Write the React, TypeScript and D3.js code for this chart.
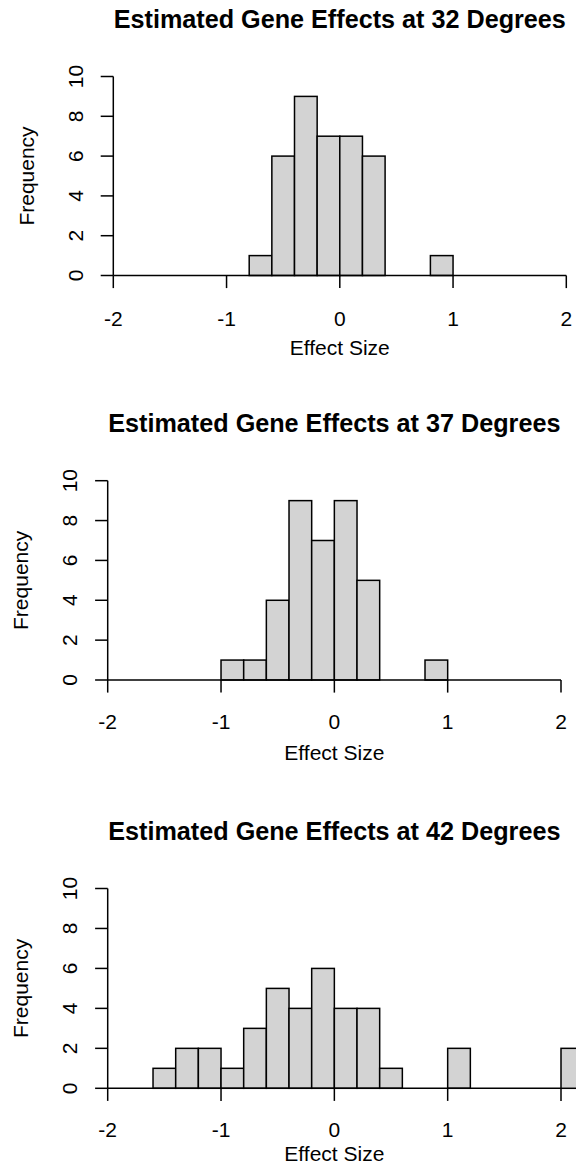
import React from "react";
import * as d3 from "d3";

// ---- data ----
const titles = [
  "Estimated Gene Effects at 32 Degrees",
  "Estimated Gene Effects at 37 Degrees",
  "Estimated Gene Effects at 42 Degrees",
];
const breaks32 = [-0.8, -0.6, -0.4, -0.2, 0.0, 0.2, 0.4, 0.6, 0.8, 1.0];
const counts32 = [1, 6, 9, 7, 7, 6, 0, 0, 1];
const breaks37 = [-1.0, -0.8, -0.6, -0.4, -0.2, 0.0, 0.2, 0.4, 0.6, 0.8, 1.0];
const counts37 = [1, 1, 4, 9, 7, 9, 5, 0, 0, 1];
const breaks42 = [
  -1.6, -1.4, -1.2, -1.0, -0.8, -0.6, -0.4, -0.2, 0.0, 0.2, 0.4, 0.6, 0.8, 1.0,
  1.2, 1.4, 1.6, 1.8, 2.0, 2.2,
];
const counts42 = [1, 2, 2, 1, 3, 5, 4, 6, 4, 4, 1, 0, 0, 2, 0, 0, 0, 0, 2];
const xTicks = [-2, -1, 0, 1, 2];
const yTicks = [0, 2, 4, 6, 8, 10];
const xLabel = "Effect Size";
const yLabel = "Frequency";

// ---- layout ----
const W = 576;
const H = 1166;
const FONT = "'Liberation Sans', Arial, Helvetica, sans-serif";
const BASE = 21;
const TITLE = 25.2;
const TCK = 12.6;

const layouts = [
  { x0: 113.3, x1: 566.3, yTop: 76.5, yBot: 275.5, xlab: 43, xtitle: 72 },
  { x0: 107.7, x1: 561.0, yTop: 480.7, yBot: 680.0, xlab: 41, xtitle: 72 },
  { x0: 107.7, x1: 561.0, yTop: 888.5, yBot: 1088.3, xlab: 41, xtitle: 65 },
];
const datasets = [
  { breaks: breaks32, counts: counts32 },
  { breaks: breaks37, counts: counts37 },
  { breaks: breaks42, counts: counts42 },
];

function Panel({ idx }: { idx: number }) {
  const L = layouts[idx];
  const D = datasets[idx];
  const x = d3.scaleLinear().domain([-2, 2]).range([L.x0, L.x1]);
  const y = d3.scaleLinear().domain([0, 10]).range([L.yBot, L.yTop]);
  const cx = (L.x0 + L.x1) / 2;
  const cy = (L.yTop + L.yBot) / 2;
  const sw = 1.5;
  return (
    <g>
      <text
        x={cx}
        y={L.yTop - 58 + 9}
        textAnchor="middle"
        fontFamily={FONT}
        fontWeight="bold"
        fontSize={TITLE}
      >
        {titles[idx]}
      </text>
      {D.counts.map((c, i) => (
        <rect
          key={i}
          x={x(D.breaks[i])}
          y={y(c)}
          width={x(D.breaks[i + 1]) - x(D.breaks[i])}
          height={y(0) - y(c)}
          fill="#d3d3d3"
          stroke="#000"
          strokeWidth={sw}
        />
      ))}
      {/* x axis */}
      <line x1={x(-2)} x2={x(2)} y1={y(0)} y2={y(0)} stroke="#000" strokeWidth={sw} />
      {xTicks.map((t) => (
        <g key={t}>
          <line x1={x(t)} x2={x(t)} y1={y(0)} y2={y(0) + TCK} stroke="#000" strokeWidth={sw} />
          <text
            x={x(t)}
            y={y(0) + L.xlab + 7.5}
            textAnchor="middle"
            fontFamily={FONT}
            fontSize={BASE}
          >
            {t}
          </text>
        </g>
      ))}
      <text
        x={cx}
        y={y(0) + L.xtitle + 7.5}
        textAnchor="middle"
        fontFamily={FONT}
        fontSize={BASE}
      >
        {xLabel}
      </text>
      {/* y axis */}
      <line x1={L.x0} x2={L.x0} y1={y(0)} y2={y(10)} stroke="#000" strokeWidth={sw} />
      {yTicks.map((t) => (
        <g key={t}>
          <line x1={L.x0} x2={L.x0 - TCK} y1={y(t)} y2={y(t)} stroke="#000" strokeWidth={sw} />
          <text
            transform={`translate(${L.x0 - 38 + 7.5},${y(t)}) rotate(-90)`}
            textAnchor="middle"
            fontFamily={FONT}
            fontSize={BASE}
          >
            {t}
          </text>
        </g>
      ))}
      <text
        transform={`translate(${L.x0 - 87 + 7.5},${cy}) rotate(-90)`}
        textAnchor="middle"
        fontFamily={FONT}
        fontSize={BASE}
      >
        {yLabel}
      </text>
    </g>
  );
}

export default function App() {
  return (
    <svg
      width={W}
      height={H}
      viewBox={`0 0 ${W} ${H}`}
      style={{ position: "absolute", left: 0, top: 0, background: "#fff" }}
    >
      <rect width={W} height={H} fill="#fff" />
      {[0, 1, 2].map((i) => (
        <Panel key={i} idx={i} />
      ))}
    </svg>
  );
}
